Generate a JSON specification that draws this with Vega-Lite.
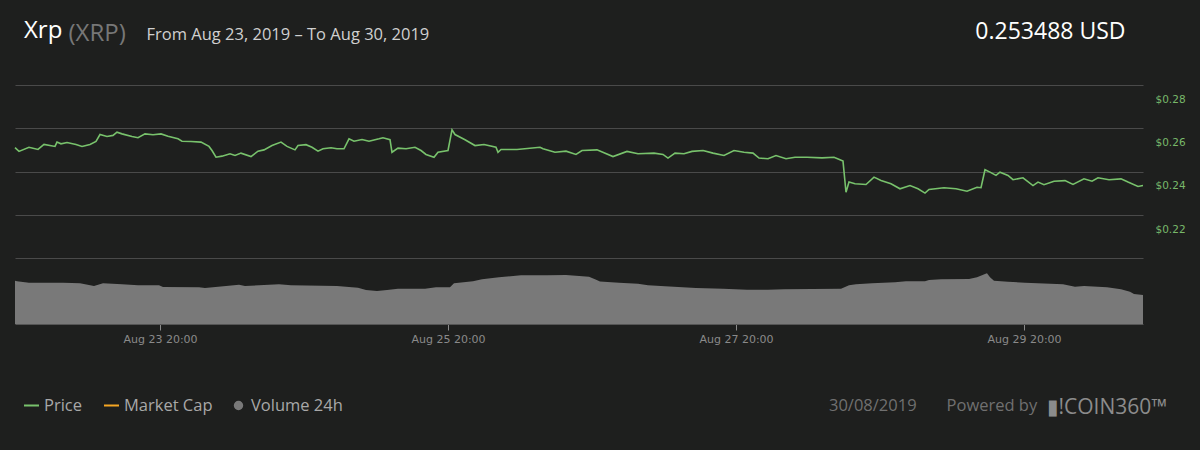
{
  "$schema": "https://vega.github.io/schema/vega-lite/v6.json",
  "autosize": {"type": "none"},
  "width": 1128,
  "height": 239,
  "padding": {"left": 15, "top": 85, "right": 57, "bottom": 126},
  "background": "#1e1f1e",
  "title": {"text": "Xrp", "anchor": "start", "frame": "group", "dx": 9, "dy": 27, "fontSize": 24, "fontWeight": "normal", "color": "#ffffff", "font": "Open Sans"},
  "datasets": {
    "price": [
      {"t": "2019-08-22T19:50:00Z", "p": 0.2710}, {"t": "2019-08-22T20:30:00Z", "p": 0.2693}, {"t": "2019-08-22T22:10:00Z", "p": 0.2712},
      {"t": "2019-08-22T23:40:00Z", "p": 0.2702}, {"t": "2019-08-23T00:40:00Z", "p": 0.2725}, {"t": "2019-08-23T02:30:00Z", "p": 0.2716},
      {"t": "2019-08-23T02:50:00Z", "p": 0.2736}, {"t": "2019-08-23T03:30:00Z", "p": 0.2728}, {"t": "2019-08-23T04:30:00Z", "p": 0.2734},
      {"t": "2019-08-23T06:00:00Z", "p": 0.2725}, {"t": "2019-08-23T07:00:00Z", "p": 0.2716}, {"t": "2019-08-23T08:20:00Z", "p": 0.2725},
      {"t": "2019-08-23T09:20:00Z", "p": 0.2739}, {"t": "2019-08-23T10:00:00Z", "p": 0.2771}, {"t": "2019-08-23T11:10:00Z", "p": 0.2762},
      {"t": "2019-08-23T12:10:00Z", "p": 0.2767}, {"t": "2019-08-23T12:50:00Z", "p": 0.2782}, {"t": "2019-08-23T13:40:00Z", "p": 0.2774},
      {"t": "2019-08-23T15:20:00Z", "p": 0.2762}, {"t": "2019-08-23T16:20:00Z", "p": 0.2756}, {"t": "2019-08-23T17:30:00Z", "p": 0.2774},
      {"t": "2019-08-23T18:50:00Z", "p": 0.2770}, {"t": "2019-08-23T20:10:00Z", "p": 0.2774}, {"t": "2019-08-23T21:20:00Z", "p": 0.2763},
      {"t": "2019-08-23T23:00:00Z", "p": 0.2751}, {"t": "2019-08-23T23:40:00Z", "p": 0.2740}, {"t": "2019-08-24T01:10:00Z", "p": 0.2739},
      {"t": "2019-08-24T02:50:00Z", "p": 0.2736}, {"t": "2019-08-24T04:10:00Z", "p": 0.2716}, {"t": "2019-08-24T04:40:00Z", "p": 0.2697},
      {"t": "2019-08-24T05:20:00Z", "p": 0.2666}, {"t": "2019-08-24T06:20:00Z", "p": 0.2671}, {"t": "2019-08-24T07:40:00Z", "p": 0.2682},
      {"t": "2019-08-24T08:30:00Z", "p": 0.2674}, {"t": "2019-08-24T09:30:00Z", "p": 0.2685}, {"t": "2019-08-24T11:10:00Z", "p": 0.2669},
      {"t": "2019-08-24T12:20:00Z", "p": 0.2694}, {"t": "2019-08-24T13:20:00Z", "p": 0.2700}, {"t": "2019-08-24T14:40:00Z", "p": 0.2720},
      {"t": "2019-08-24T16:10:00Z", "p": 0.2736}, {"t": "2019-08-24T17:10:00Z", "p": 0.2716}, {"t": "2019-08-24T18:30:00Z", "p": 0.2700},
      {"t": "2019-08-24T19:00:00Z", "p": 0.2720}, {"t": "2019-08-24T20:20:00Z", "p": 0.2724}, {"t": "2019-08-24T21:20:00Z", "p": 0.2712},
      {"t": "2019-08-24T22:20:00Z", "p": 0.2694}, {"t": "2019-08-24T23:10:00Z", "p": 0.2705}, {"t": "2019-08-25T00:30:00Z", "p": 0.2710},
      {"t": "2019-08-25T01:30:00Z", "p": 0.2705}, {"t": "2019-08-25T02:40:00Z", "p": 0.2705}, {"t": "2019-08-25T03:30:00Z", "p": 0.2751},
      {"t": "2019-08-25T04:20:00Z", "p": 0.2740}, {"t": "2019-08-25T05:40:00Z", "p": 0.2748}, {"t": "2019-08-25T06:50:00Z", "p": 0.2740},
      {"t": "2019-08-25T08:30:00Z", "p": 0.2751}, {"t": "2019-08-25T09:10:00Z", "p": 0.2756}, {"t": "2019-08-25T10:20:00Z", "p": 0.2747},
      {"t": "2019-08-25T10:40:00Z", "p": 0.2689}, {"t": "2019-08-25T11:40:00Z", "p": 0.2708}, {"t": "2019-08-25T13:00:00Z", "p": 0.2705},
      {"t": "2019-08-25T14:30:00Z", "p": 0.2712}, {"t": "2019-08-25T15:30:00Z", "p": 0.2697}, {"t": "2019-08-25T16:20:00Z", "p": 0.2679},
      {"t": "2019-08-25T17:40:00Z", "p": 0.2666}, {"t": "2019-08-25T18:20:00Z", "p": 0.2689}, {"t": "2019-08-25T20:00:00Z", "p": 0.2697},
      {"t": "2019-08-25T20:40:00Z", "p": 0.2793}, {"t": "2019-08-25T21:10:00Z", "p": 0.2771}, {"t": "2019-08-25T22:50:00Z", "p": 0.2747},
      {"t": "2019-08-26T00:30:00Z", "p": 0.2720}, {"t": "2019-08-26T02:00:00Z", "p": 0.2725}, {"t": "2019-08-26T04:00:00Z", "p": 0.2712},
      {"t": "2019-08-26T04:20:00Z", "p": 0.2689}, {"t": "2019-08-26T04:50:00Z", "p": 0.2702}, {"t": "2019-08-26T07:30:00Z", "p": 0.2702},
      {"t": "2019-08-26T11:20:00Z", "p": 0.2712}, {"t": "2019-08-26T11:50:00Z", "p": 0.2705}, {"t": "2019-08-26T13:50:00Z", "p": 0.2689},
      {"t": "2019-08-26T15:40:00Z", "p": 0.2694}, {"t": "2019-08-26T17:20:00Z", "p": 0.2679}, {"t": "2019-08-26T18:20:00Z", "p": 0.2697},
      {"t": "2019-08-26T20:50:00Z", "p": 0.2700}, {"t": "2019-08-26T23:30:00Z", "p": 0.2669}, {"t": "2019-08-27T01:50:00Z", "p": 0.2693},
      {"t": "2019-08-27T03:40:00Z", "p": 0.2682}, {"t": "2019-08-27T06:20:00Z", "p": 0.2685}, {"t": "2019-08-27T07:50:00Z", "p": 0.2679},
      {"t": "2019-08-27T08:40:00Z", "p": 0.2662}, {"t": "2019-08-27T09:50:00Z", "p": 0.2685}, {"t": "2019-08-27T11:20:00Z", "p": 0.2682},
      {"t": "2019-08-27T12:40:00Z", "p": 0.2693}, {"t": "2019-08-27T14:30:00Z", "p": 0.2697}, {"t": "2019-08-27T16:10:00Z", "p": 0.2685},
      {"t": "2019-08-27T18:00:00Z", "p": 0.2674}, {"t": "2019-08-27T19:40:00Z", "p": 0.2697}, {"t": "2019-08-27T21:20:00Z", "p": 0.2689},
      {"t": "2019-08-27T22:50:00Z", "p": 0.2685}, {"t": "2019-08-27T23:50:00Z", "p": 0.2662}, {"t": "2019-08-28T01:20:00Z", "p": 0.2659},
      {"t": "2019-08-28T02:40:00Z", "p": 0.2674}, {"t": "2019-08-28T04:20:00Z", "p": 0.2659}, {"t": "2019-08-28T05:50:00Z", "p": 0.2666},
      {"t": "2019-08-28T07:50:00Z", "p": 0.2666}, {"t": "2019-08-28T10:20:00Z", "p": 0.2663}, {"t": "2019-08-28T12:20:00Z", "p": 0.2666},
      {"t": "2019-08-28T13:20:00Z", "p": 0.2654}, {"t": "2019-08-28T13:50:00Z", "p": 0.2648}, {"t": "2019-08-28T14:20:00Z", "p": 0.2504},
      {"t": "2019-08-28T14:50:00Z", "p": 0.2551}, {"t": "2019-08-28T15:50:00Z", "p": 0.2543}, {"t": "2019-08-28T17:40:00Z", "p": 0.2540},
      {"t": "2019-08-28T19:00:00Z", "p": 0.2574}, {"t": "2019-08-28T20:10:00Z", "p": 0.2558}, {"t": "2019-08-28T21:50:00Z", "p": 0.2543},
      {"t": "2019-08-28T23:20:00Z", "p": 0.2520}, {"t": "2019-08-29T01:00:00Z", "p": 0.2535}, {"t": "2019-08-29T02:20:00Z", "p": 0.2520},
      {"t": "2019-08-29T03:30:00Z", "p": 0.2500}, {"t": "2019-08-29T04:10:00Z", "p": 0.2517}, {"t": "2019-08-29T06:40:00Z", "p": 0.2525},
      {"t": "2019-08-29T08:40:00Z", "p": 0.2520}, {"t": "2019-08-29T10:30:00Z", "p": 0.2509}, {"t": "2019-08-29T12:10:00Z", "p": 0.2527},
      {"t": "2019-08-29T12:50:00Z", "p": 0.2525}, {"t": "2019-08-29T13:30:00Z", "p": 0.2608}, {"t": "2019-08-29T14:20:00Z", "p": 0.2597},
      {"t": "2019-08-29T15:20:00Z", "p": 0.2582}, {"t": "2019-08-29T16:00:00Z", "p": 0.2597}, {"t": "2019-08-29T17:20:00Z", "p": 0.2582},
      {"t": "2019-08-29T18:10:00Z", "p": 0.2562}, {"t": "2019-08-29T19:50:00Z", "p": 0.2571}, {"t": "2019-08-29T21:30:00Z", "p": 0.2535},
      {"t": "2019-08-29T22:20:00Z", "p": 0.2551}, {"t": "2019-08-29T23:20:00Z", "p": 0.2539}, {"t": "2019-08-30T01:00:00Z", "p": 0.2555},
      {"t": "2019-08-30T02:50:00Z", "p": 0.2558}, {"t": "2019-08-30T04:10:00Z", "p": 0.2540}, {"t": "2019-08-30T06:00:00Z", "p": 0.2566},
      {"t": "2019-08-30T07:20:00Z", "p": 0.2555}, {"t": "2019-08-30T08:20:00Z", "p": 0.2571}, {"t": "2019-08-30T10:10:00Z", "p": 0.2562},
      {"t": "2019-08-30T12:10:00Z", "p": 0.2566}, {"t": "2019-08-30T13:20:00Z", "p": 0.2551}, {"t": "2019-08-30T15:00:00Z", "p": 0.2531},
      {"t": "2019-08-30T15:50:00Z", "p": 0.2535}
    ],
    "volume": [
      {"t": "2019-08-22T19:50:00Z", "v": 1.268}, {"t": "2019-08-22T20:10:00Z", "v": 1.251}, {"t": "2019-08-22T22:10:00Z", "v": 1.210},
      {"t": "2019-08-23T03:50:00Z", "v": 1.210}, {"t": "2019-08-23T06:40:00Z", "v": 1.192}, {"t": "2019-08-23T09:00:00Z", "v": 1.113},
      {"t": "2019-08-23T10:30:00Z", "v": 1.192}, {"t": "2019-08-23T13:40:00Z", "v": 1.163}, {"t": "2019-08-23T16:20:00Z", "v": 1.133},
      {"t": "2019-08-23T19:50:00Z", "v": 1.133}, {"t": "2019-08-23T20:30:00Z", "v": 1.084}, {"t": "2019-08-24T02:30:00Z", "v": 1.075},
      {"t": "2019-08-24T03:30:00Z", "v": 1.054}, {"t": "2019-08-24T07:00:00Z", "v": 1.113}, {"t": "2019-08-24T09:10:00Z", "v": 1.151},
      {"t": "2019-08-24T10:10:00Z", "v": 1.113}, {"t": "2019-08-24T15:50:00Z", "v": 1.163}, {"t": "2019-08-24T17:50:00Z", "v": 1.133},
      {"t": "2019-08-25T01:30:00Z", "v": 1.113}, {"t": "2019-08-25T05:00:00Z", "v": 1.063}, {"t": "2019-08-25T06:20:00Z", "v": 0.996},
      {"t": "2019-08-25T08:10:00Z", "v": 0.967}, {"t": "2019-08-25T09:50:00Z", "v": 0.996}, {"t": "2019-08-25T11:40:00Z", "v": 1.034},
      {"t": "2019-08-25T16:10:00Z", "v": 1.034}, {"t": "2019-08-25T18:00:00Z", "v": 1.075}, {"t": "2019-08-25T20:20:00Z", "v": 1.075},
      {"t": "2019-08-25T21:00:00Z", "v": 1.192}, {"t": "2019-08-26T00:10:00Z", "v": 1.251}, {"t": "2019-08-26T01:40:00Z", "v": 1.309},
      {"t": "2019-08-26T04:30:00Z", "v": 1.368}, {"t": "2019-08-26T08:10:00Z", "v": 1.426}, {"t": "2019-08-26T12:30:00Z", "v": 1.426},
      {"t": "2019-08-26T15:40:00Z", "v": 1.435}, {"t": "2019-08-26T19:30:00Z", "v": 1.385}, {"t": "2019-08-26T20:30:00Z", "v": 1.309},
      {"t": "2019-08-26T21:20:00Z", "v": 1.245}, {"t": "2019-08-27T00:30:00Z", "v": 1.210}, {"t": "2019-08-27T03:40:00Z", "v": 1.180},
      {"t": "2019-08-27T05:20:00Z", "v": 1.133}, {"t": "2019-08-27T08:10:00Z", "v": 1.104}, {"t": "2019-08-27T13:20:00Z", "v": 1.054},
      {"t": "2019-08-27T17:50:00Z", "v": 1.034}, {"t": "2019-08-27T21:50:00Z", "v": 1.005}, {"t": "2019-08-28T01:20:00Z", "v": 1.005},
      {"t": "2019-08-28T04:00:00Z", "v": 1.016}, {"t": "2019-08-28T13:30:00Z", "v": 1.034}, {"t": "2019-08-28T14:50:00Z", "v": 1.133},
      {"t": "2019-08-28T16:00:00Z", "v": 1.163}, {"t": "2019-08-28T18:40:00Z", "v": 1.192}, {"t": "2019-08-28T22:30:00Z", "v": 1.221},
      {"t": "2019-08-29T00:20:00Z", "v": 1.251}, {"t": "2019-08-29T03:30:00Z", "v": 1.251}, {"t": "2019-08-29T04:10:00Z", "v": 1.289},
      {"t": "2019-08-29T06:10:00Z", "v": 1.309}, {"t": "2019-08-29T10:50:00Z", "v": 1.318}, {"t": "2019-08-29T12:10:00Z", "v": 1.368},
      {"t": "2019-08-29T13:30:00Z", "v": 1.464}, {"t": "2019-08-29T13:50:00Z", "v": 1.485}, {"t": "2019-08-29T14:20:00Z", "v": 1.368},
      {"t": "2019-08-29T15:00:00Z", "v": 1.268}, {"t": "2019-08-29T17:20:00Z", "v": 1.239}, {"t": "2019-08-29T20:10:00Z", "v": 1.210},
      {"t": "2019-08-30T02:30:00Z", "v": 1.163}, {"t": "2019-08-30T04:30:00Z", "v": 1.092}, {"t": "2019-08-30T06:00:00Z", "v": 1.113},
      {"t": "2019-08-30T09:50:00Z", "v": 1.075}, {"t": "2019-08-30T12:10:00Z", "v": 1.016}, {"t": "2019-08-30T13:40:00Z", "v": 0.946},
      {"t": "2019-08-30T14:20:00Z", "v": 0.879}, {"t": "2019-08-30T15:50:00Z", "v": 0.849}
    ]
  },
  "layer": [
    {
      "data": {"name": "volume"},
      "mark": {"type": "area", "interpolate": "linear", "opacity": 1},
      "encoding": {
        "x": {
          "field": "t",
          "type": "temporal",
          "scale": {
            "type": "utc",
            "domain": [
              {"year": 2019, "month": "aug", "date": 22, "hours": 19, "minutes": 50, "utc": true},
              {"year": 2019, "month": "aug", "date": 30, "hours": 15, "minutes": 50, "utc": true}
            ]
          },
          "axis": {
            "orient": "bottom",
            "values": [
              {"year": 2019, "month": "aug", "date": 23, "hours": 20, "utc": true},
              {"year": 2019, "month": "aug", "date": 25, "hours": 20, "utc": true},
              {"year": 2019, "month": "aug", "date": 27, "hours": 20, "utc": true},
              {"year": 2019, "month": "aug", "date": 29, "hours": 20, "utc": true}
            ],
            "format": "%b %d %H:%M",
            "grid": false,
            "labelFlush": false,
            "labelColor": "#8a8a8a",
            "labelFont": "DejaVu Sans",
            "labelFontSize": 11,
            "labelPadding": 3,
            "tickColor": "#8a8a8a",
            "tickSize": 6,
            "domainColor": "#555555",
            "title": "▮!COIN360™",
            "titleFont": "Open Sans",
            "titleFontSize": 21,
            "titleFontWeight": "normal",
            "titleColor": "#8c8c8c",
            "titleAlign": "left",
            "titleBaseline": "alphabetic",
            "titleAnchor": "start",
            "titleX": 1031,
            "titleY": 89
          }
        },
        "y": {
          "field": "v",
          "type": "quantitative",
          "scale": {"domain": [0, 7]},
          "axis": {
            "orient": "left",
            "labels": false,
            "ticks": false,
            "domain": false,
            "grid": false,
            "title": "(XRP)",
            "titleAngle": 0,
            "titleFont": "Open Sans",
            "titleFontSize": 24,
            "titleFontWeight": "normal",
            "titleColor": "#777777",
            "titleAlign": "left",
            "titleBaseline": "alphabetic",
            "titleX": 53,
            "titleY": -45
          }
        },
        "color": {
          "datum": "Volume 24h",
          "scale": {"domain": ["Price", "Market Cap", "Volume 24h"], "range": ["#78c26c", "#f5a623", "#797979"]},
          "legend": {
            "orient": "none",
            "legendX": 8,
            "legendY": 312,
            "direction": "horizontal",
            "title": "30/08/2019\u00a0\u00a0\u00a0\u00a0\u00a0\u00a0\u00a0Powered by",
            "titleOrient": "right",
            "titlePadding": 486,
            "titleLimit": 400,
            "titleFont": "Open Sans",
            "titleFontSize": 16.5,
            "titleFontWeight": "normal",
            "titleColor": "#707070",
            "labelFont": "Open Sans",
            "labelFontSize": 16.5,
            "labelColor": "#a8a8a8",
            "labelOffset": 4,
            "columnPadding": 17,
            "symbolType": "stroke",
            "symbolSize": 225,
            "symbolStrokeWidth": 2,
            "encoding": {
              "symbols": {
                "shape": {"value": {"expr": "datum.value === 'Volume 24h' ? 'circle' : 'stroke'"}},
                "size": {"value": {"expr": "datum.value === 'Volume 24h' ? 55 : 225"}},
                "fill": {"value": {"expr": "datum.value === 'Volume 24h' ? '#8a8a8a' : 'transparent'"}},
                "stroke": {"value": {"expr": "datum.value === 'Volume 24h' ? 'transparent' : scale('color', datum.value)"}}
              }
            }
          }
        }
      }
    },
    {
      "data": {"name": "price"},
      "mark": {"type": "line", "strokeWidth": 1.6},
      "encoding": {
        "x": {
          "field": "t",
          "type": "temporal",
          "axis": {
            "orient": "top",
            "labels": false,
            "ticks": false,
            "domain": false,
            "grid": false,
            "title": "From Aug 23, 2019 – To Aug 30, 2019",
            "titleFont": "Open Sans",
            "titleFontSize": 16.5,
            "titleFontWeight": "normal",
            "titleColor": "#d0d0d0",
            "titleAlign": "left",
            "titleBaseline": "alphabetic",
            "titleAnchor": "start",
            "titleX": 131,
            "titleY": -46
          }
        },
        "y": {
          "field": "p",
          "type": "quantitative",
          "scale": {"domain": [0.18948, 0.30], "zero": false, "nice": false},
          "axis": {
            "orient": "right",
            "values": [0.22, 0.24, 0.26, 0.28, 0.30],
            "format": "$.2f",
            "labelExpr": "datum.value > 0.29 ? '' : datum.label",
            "labelOffset": -29,
            "labelPadding": 12,
            "labelColor": "#78b86a",
            "labelFont": "DejaVu Sans",
            "labelFontSize": 10.5,
            "ticks": false,
            "domain": false,
            "grid": true,
            "gridColor": "#4a4a4a",
            "title": "0.253488 USD",
            "titleAngle": 0,
            "titleFont": "Open Sans",
            "titleFontSize": 23,
            "titleFontWeight": "normal",
            "titleColor": "#ffffff",
            "titleAlign": "right",
            "titleBaseline": "alphabetic",
            "titleX": -18,
            "titleY": -47
          }
        },
        "color": {"datum": "Price"}
      }
    }
  ],
  "resolve": {"scale": {"y": "independent"}, "axis": {"x": "independent", "y": "independent"}},
  "config": {
    "view": {"stroke": null},
    "font": "Open Sans"
  }
}
